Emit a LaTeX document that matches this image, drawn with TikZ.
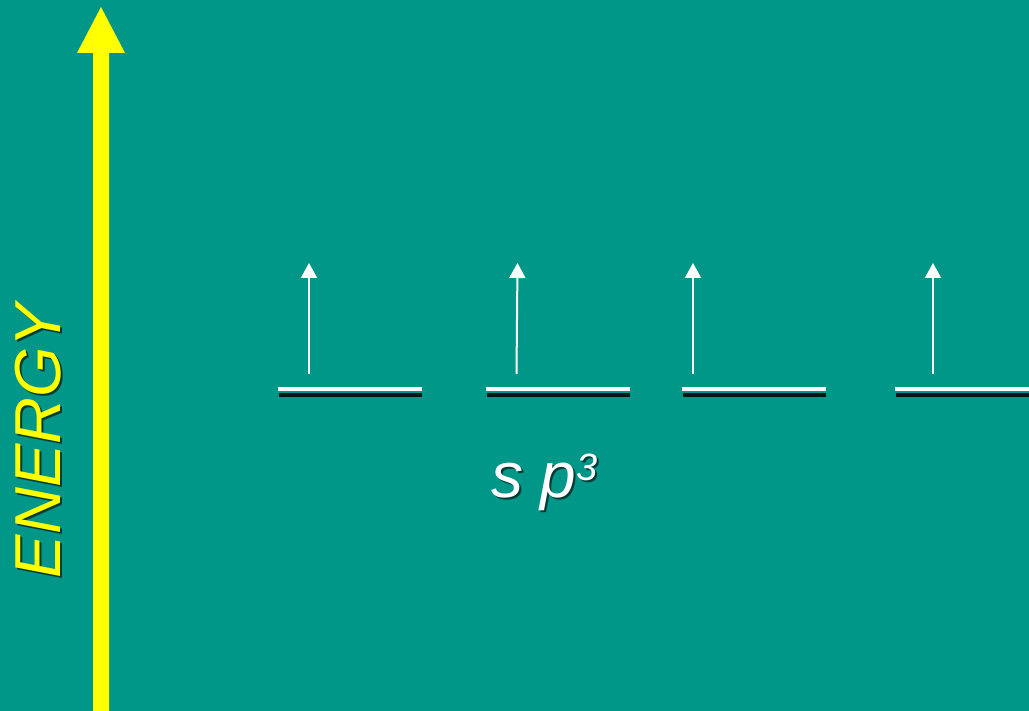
\documentclass[tikz,border=0pt]{standalone}
\usepackage{fontspec}
\setmainfont{Liberation Sans}
\usetikzlibrary{arrows.meta}
\definecolor{bgteal}{RGB}{0,150,136}
\definecolor{eyellow}{RGB}{255,255,0}
\tikzset{
  level/.style={draw=white, line width=4pt},
  levelshadow/.style={draw=black, line width=4pt, opacity=0.85},
  spin/.style={draw=white, line width=2pt, -{Triangle[width=16pt,length=15pt]}},
  shadowtext/.style={text=black, opacity=0.6, inner sep=0pt},
}
\begin{document}
\begin{tikzpicture}[x=1pt,y=-1pt]
\useasboundingbox[fill=bgteal] (0,0) rectangle (1029,711);
% energy arrow
\fill[eyellow] (93,711) -- (93,53) -- (77,53) -- (101,7) -- (125,53) -- (109,53) -- (109,711) -- cycle;
% ENERGY label
\node[shadowtext, rotate=90, font=\fontsize{65}{65}\selectfont\itshape] at (40.5,443) {ENERGY};
\node[text=eyellow, inner sep=0pt, rotate=90, font=\fontsize{65}{65}\selectfont\itshape] (energy) at (38.5,441) {ENERGY};
% levels
\foreach \a/\b/\n in {278/422/1, 486/630/2, 682/826/3, 895/1040/4}{
  \draw[levelshadow] (\a+1,395) -- (\b,395);
  \draw[level] (\a,389) -- (\b,389);
}
% spins
\coordinate (s1a) at (309,374); \coordinate (s1b) at (309,263);
\coordinate (s2a) at (516.5,374); \coordinate (s2b) at (517.5,263);
\coordinate (s3a) at (693,374); \coordinate (s3b) at (693,263);
\coordinate (s4a) at (933,374); \coordinate (s4b) at (933,263);
\draw[spin] (s1a) -- (s1b);
\draw[spin] (s2a) -- (s2b);
\draw[spin] (s3a) -- (s3b);
\draw[spin] (s4a) -- (s4b);
% label s p^3
\node[shadowtext, anchor=base west, font=\fontsize{64}{64}\selectfont\itshape] at (493,499) {s p\raisebox{17pt}{\fontsize{38}{38}\selectfont 3}};
\node[text=white, inner sep=0pt, anchor=base west, font=\fontsize{64}{64}\selectfont\itshape] (sp3) at (491,497) {s p\raisebox{17pt}{\fontsize{38}{38}\selectfont 3}};
\end{tikzpicture}
\end{document}
